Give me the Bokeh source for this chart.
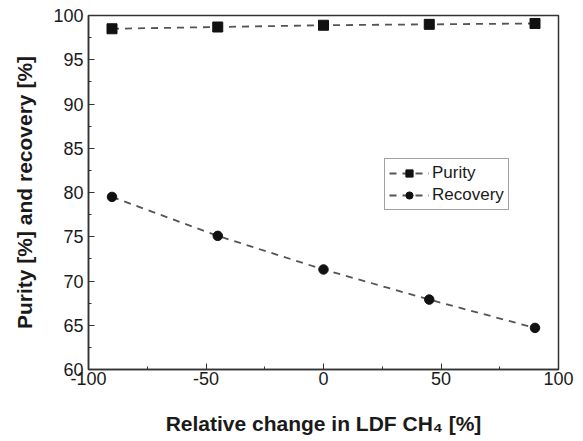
from bokeh.plotting import figure
from bokeh.models import SingleIntervalTicker, Legend, LegendItem, Range1d, PrintfTickFormatter
from bokeh.embed import file_html
from bokeh.resources import INLINE

x_change = [-90, -45, 0, 45, 90]
purity = [98.5, 98.7, 98.9, 99.0, 99.1]
recovery = [79.5, 75.1, 71.3, 67.9, 64.7]

p = figure(width=583, height=441, output_backend="svg", toolbar_location=None,
           x_range=Range1d(-100, 100), y_range=Range1d(60, 100),
           min_border_left=88, min_border_right=25, min_border_top=15, min_border_bottom=72)
p.grid.visible = False
p.background_fill_color = "white"
p.border_fill_color = "white"
p.outline_line_color = "#333333"
p.outline_line_width = 1.5

font = "Liberation Sans"
for ax in (p.xaxis[0], p.yaxis[0]):
    ax.axis_line_color = "#333333"
    ax.axis_line_width = 1.5
    ax.major_tick_in = 6
    ax.major_tick_out = 0
    ax.minor_tick_in = 3
    ax.minor_tick_out = 0
    ax.major_tick_line_color = "#333333"
    ax.minor_tick_line_color = "#333333"
    ax.major_label_text_font = font
    ax.major_label_text_font_size = "18px"
    ax.major_label_text_color = "#1a1a1a"
    ax.axis_label_text_font = font
    ax.axis_label_text_font_size = "21px"
    ax.axis_label_text_font_style = "bold"
    ax.axis_label_text_color = "#1a1a1a"
    ax.formatter = PrintfTickFormatter(format="%d")

p.xaxis.ticker = SingleIntervalTicker(interval=50, num_minor_ticks=2)
p.yaxis.ticker = SingleIntervalTicker(interval=5, num_minor_ticks=2)
p.xaxis.axis_label = "Relative change in LDF CH\u2084 [%]"
p.yaxis.axis_label = "Purity [%] and recovery [%]"
p.xaxis.major_label_standoff = 2
p.yaxis.major_label_standoff = 5
p.xaxis.axis_label_standoff = 24
p.yaxis.axis_label_standoff = 14

l1 = p.line(x_change, purity, line_dash="7 6", line_color="#555555", line_width=1.8)
m1 = p.scatter(x_change, purity, marker="square", size=10, color="#111111")
l2 = p.line(x_change, recovery, line_dash="7 6", line_color="#555555", line_width=1.8)
m2 = p.scatter(x_change, recovery, marker="circle", size=9.5, color="#111111")

legend = Legend(items=[LegendItem(label="Purity", renderers=[l1, m1]),
                       LegendItem(label="Recovery", renderers=[l2, m2])],
                location=(296, 159))
legend.label_text_font = font
legend.label_text_font_size = "17px"
legend.label_text_color = "#1a1a1a"
legend.border_line_color = "#444444"
legend.border_line_width = 1.5
legend.glyph_width = 40
legend.glyph_height = 18
legend.label_height = 18
legend.spacing = 2
legend.padding = 4
legend.margin = 0
legend.label_standoff = 3
p.add_layout(legend, "center")

open("out.html", "w").write(file_html(p, INLINE))
